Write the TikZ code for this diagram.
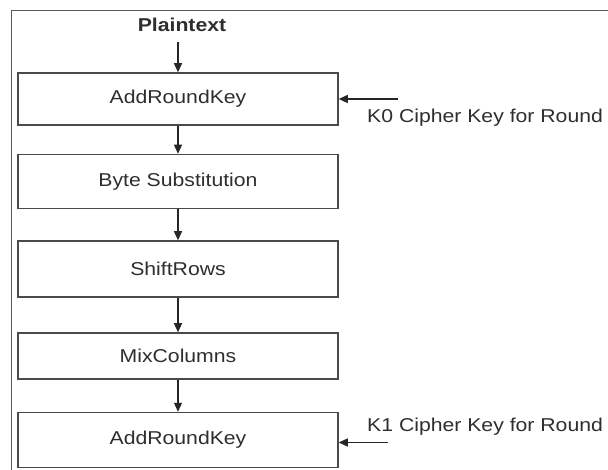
\documentclass[tikz,border=0pt]{standalone}
\usepackage{fontspec}
\usepackage{graphicx}
\setmainfont{Liberation Sans}
\usetikzlibrary{arrows.meta}
\definecolor{linegray}{HTML}{4A4A4A}
\definecolor{framegray}{HTML}{5A5A5A}
\definecolor{txtgray}{HTML}{2E2E2E}
\newcommand{\widetxt}[1]{\scalebox{1.14}[1]{#1}}
\begin{document}
\begin{tikzpicture}[x=1pt,y=-1pt,
  stagebox/.style={draw=linegray,line width=1.5pt,fill=white,rectangle,inner sep=0pt,
    minimum width=320pt,text=txtgray,font=\fontsize{18.6}{20}\selectfont},
  flowarr/.style={draw=black!85,line width=1.3pt,-{Triangle[length=9pt,width=8pt]}},
  lbl/.style={text=txtgray,inner sep=0pt,font=\fontsize{18.6}{20}\selectfont}]
\useasboundingbox (0,0) rectangle (608,470);
\fill[white] (0,0) rectangle (608,470);
% outer frame
\draw[framegray,line width=1.3pt] (11.5,480) |- (620,10.3);
% boxes
\node[stagebox,minimum height=52pt] (b1) at (178,99) {\widetxt{AddRoundKey}};
\node[stagebox,minimum height=54pt] (b2) at (178,181.5) {\widetxt{Byte Substitution}};
\node[stagebox,minimum height=56pt] (b3) at (178,269) {\widetxt{ShiftRows}};
\node[stagebox,minimum height=46pt] (b4) at (178,356) {\widetxt{MixColumns}};
\node[stagebox,minimum height=55pt] (b5) at (178,440) {\widetxt{AddRoundKey}};
% plaintext
\node[lbl,font=\fontsize{18.6}{20}\selectfont\bfseries] (pt) at (182,25) {\widetxt{Plaintext}};
\coordinate (ptout) at (178,42);
\draw[flowarr] (ptout) -- (b1.north);
\draw[flowarr] (b1.south) -- (b2.north);
\draw[flowarr] (b2.south) -- (b3.north);
\draw[flowarr] (b3.south) -- (b4.north);
\draw[flowarr] (b4.south) -- (b5.north);
% keys
\coordinate (k0tail) at (398,99);
\coordinate (k1tail) at (388,442.5);
\draw[flowarr] (k0tail) -- (b1.east |- k0tail);
\draw[flowarr] (k1tail) -- (b5.east |- k1tail);
\node[lbl,anchor=base west] (k0) at (367,123) {\widetxt{K0 Cipher Key for Round}};
\node[lbl,anchor=base west] (k1) at (367,431.5) {\widetxt{K1 Cipher Key for Round}};
\end{tikzpicture}
\end{document}
